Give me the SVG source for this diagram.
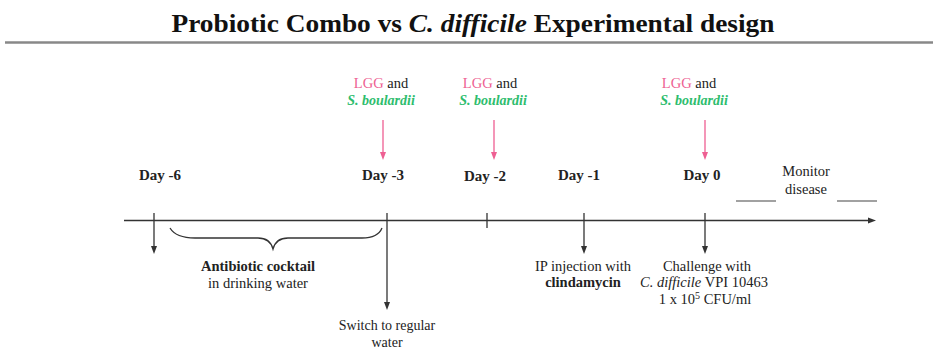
<svg xmlns="http://www.w3.org/2000/svg" width="933" height="351" viewBox="0 0 933 351" font-family="'Liberation Serif','Times New Roman',serif">
<defs>
<marker id="ah" markerWidth="8" markerHeight="8" refX="4" refY="4" orient="auto" markerUnits="userSpaceOnUse">
<path d="M0,1 L8,4 L0,7 Z" fill="#333"/>
</marker>
<marker id="ahp" markerWidth="8" markerHeight="8" refX="4" refY="4" orient="auto" markerUnits="userSpaceOnUse">
<path d="M0,1 L8,4 L0,7 Z" fill="#ee5f92"/>
</marker>
</defs>
<style>
text{font-family:"Liberation Serif","Times New Roman",serif;fill:#222;}
.t{font-size:14.5px;}
.b{font-weight:bold;}
.day{font-size:15px;font-weight:bold;}
.lgg{fill:#ee5f92;}
.sb{fill:#2ebd6e;font-style:italic;font-weight:bold;font-size:14px;}
.ln{stroke:#333;stroke-width:1.3;fill:none;}
.pk{stroke:#ee5f92;stroke-width:1.3;fill:none;}
</style>
<rect width="933" height="351" fill="#fff"/>
<g id="title">
<text x="473" y="32" text-anchor="middle" textLength="603" lengthAdjust="spacingAndGlyphs" style="font-size:26px;font-weight:bold;fill:#111">Probiotic Combo vs <tspan font-style="italic">C. difficile</tspan> Experimental design</text>
<line x1="5" y1="42.5" x2="933" y2="42.5" stroke="#888" stroke-width="2.5"/>
</g>
<g id="connectors">
<line class="ln" x1="124" y1="220.5" x2="872" y2="220.5" marker-end="url(#ah)"/>
<line class="ln" x1="154" y1="213" x2="154" y2="250" marker-end="url(#ah)"/>
<line class="ln" x1="387" y1="213" x2="387" y2="306" marker-end="url(#ah)"/>
<line class="ln" x1="487" y1="213" x2="487" y2="228"/>
<line class="ln" x1="584" y1="213" x2="584" y2="250" marker-end="url(#ah)"/>
<line class="ln" x1="705" y1="213" x2="705" y2="250" marker-end="url(#ah)"/>
<line class="pk" x1="383" y1="120" x2="383" y2="156" marker-end="url(#ahp)"/>
<line class="pk" x1="494" y1="120" x2="494" y2="156" marker-end="url(#ahp)"/>
<line class="pk" x1="705" y1="120" x2="705" y2="156" marker-end="url(#ahp)"/>
<path class="ln" stroke="#666" d="M170,228 Q176,238 195,238 L258,238 Q270,238 273,249 Q276,238 288,238 L362,238 Q378,238 382,228"/>
</g>
<g id="day-6">
<text class="day" x="160" y="180" text-anchor="middle">Day -6</text>
</g>
<g id="day-3">
<text class="t" x="381" y="88" text-anchor="middle"><tspan class="lgg">LGG</tspan>  and</text>
<text class="sb" x="381" y="105" text-anchor="middle">S. boulardii</text>
<text class="day" x="383" y="180" text-anchor="middle">Day -3</text>
</g>
<g id="day-2">
<text class="t" x="490" y="88" text-anchor="middle"><tspan class="lgg">LGG</tspan> and</text>
<text class="sb" x="493" y="105" text-anchor="middle">S. boulardii</text>
<text class="day" x="485" y="181" text-anchor="middle">Day -2</text>
</g>
<g id="day-1">
<text class="day" x="579" y="180" text-anchor="middle">Day -1</text>
</g>
<g id="day0">
<text class="t" x="689" y="88" text-anchor="middle"><tspan class="lgg">LGG</tspan> and</text>
<text class="sb" x="694" y="105" text-anchor="middle">S. boulardii</text>
<text class="day" x="702" y="180" text-anchor="middle">Day 0</text>
</g>
<g id="monitor">
<text class="t" x="806" y="176" text-anchor="middle">Monitor</text>
<text class="t" x="806" y="194" text-anchor="middle">disease</text>
<line x1="736" y1="201" x2="776" y2="201" stroke="#444" stroke-width="1.2"/>
<line x1="837" y1="201" x2="877" y2="201" stroke="#444" stroke-width="1.2"/>
</g>
<g id="antibiotic">
<text class="t b" x="258" y="271" text-anchor="middle">Antibiotic  cocktail</text>
<text class="t" x="258" y="288" text-anchor="middle">in drinking  water</text>
</g>
<g id="switch">
<text x="387" y="330" text-anchor="middle" font-size="14">Switch  to regular</text>
<text x="387" y="347" text-anchor="middle" font-size="14">water</text>
</g>
<g id="ip">
<text class="t" x="583" y="271" text-anchor="middle">IP injection  with</text>
<text class="t b" x="583" y="287" text-anchor="middle">clindamycin</text>
</g>
<g id="challenge">
<text class="t" x="707" y="271" text-anchor="middle">Challenge  with</text>
<text class="t" x="704" y="287" text-anchor="middle"><tspan font-style="italic">C. difficile</tspan> VPI 10463</text>
<text class="t" x="705" y="304" text-anchor="middle">1 x 10<tspan dy="-5" font-size="10">5</tspan><tspan dy="5"> CFU/ml</tspan></text>
</g>
</svg>
